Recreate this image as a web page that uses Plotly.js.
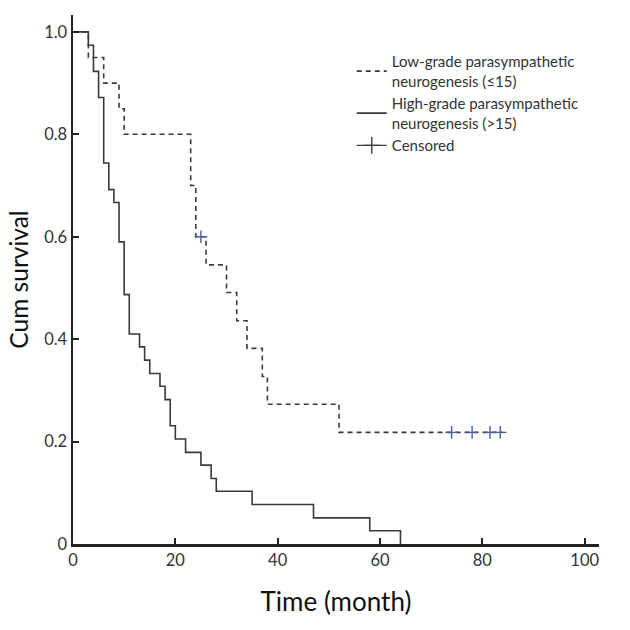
<!DOCTYPE html>
<html>
<head>
<meta charset="utf-8">
<script src="https://cdn.plot.ly/plotly-3.0.1.min.js"></script>
<style>html,body{margin:0;padding:0;background:#fff;}#chart{width:630px;height:630px;}</style>
</head>
<body>
<div id="chart"></div>
<script>
// High-grade parasympathetic neurogenesis (>15): step times (months) and survival
const highTimes = [0, 3, 4, 5, 6, 7, 8, 9, 10, 11, 13, 14, 15, 17, 18, 19, 20, 22, 25, 27, 28, 35, 47, 58, 64];
const highSurv  = [1.0, 0.974, 0.923, 0.872, 0.744, 0.692, 0.667, 0.590, 0.487, 0.410, 0.385, 0.359, 0.333, 0.308, 0.282, 0.231, 0.205, 0.179, 0.154, 0.128, 0.103, 0.077, 0.051, 0.026, 0.0];

// Low-grade parasympathetic neurogenesis (<=15)
const lowTimes = [0, 3, 6, 9, 10, 23, 24, 26, 30, 32, 34, 37, 38, 52, 84];
const lowSurv  = [1.0, 0.95, 0.90, 0.85, 0.80, 0.70, 0.60, 0.545, 0.491, 0.436, 0.382, 0.327, 0.273, 0.218, 0.218];

// Censored observations (low-grade group)
const censTimes = [25, 74, 78, 81.5, 83.5];
const censSurv  = [0.60, 0.218, 0.218, 0.218, 0.218];

const xTicks = [0, 20, 40, 60, 80, 100];
const yTickVals = [0, 0.2, 0.4, 0.6, 0.8, 1.0];
const yTickText = ['0', '0.2', '0.4', '0.6', '0.8', '1.0'];

const FONT = 'Lato, "Open Sans", sans-serif';
const LINE = '#3a3a3a';

const traces = [
  {
    x: lowTimes, y: lowSurv, mode: 'lines', line: {shape: 'hv', color: LINE, width: 1.6, dash: '5px,4px'},
    name: 'Low-grade parasympathetic<br>neurogenesis (≤15)', hoverinfo: 'skip'
  },
  {
    x: highTimes, y: highSurv, mode: 'lines', line: {shape: 'hv', color: LINE, width: 1.6},
    name: 'High-grade parasympathetic<br>neurogenesis (>15)', hoverinfo: 'skip'
  },
  {
    x: censTimes, y: censSurv, mode: 'markers',
    marker: {symbol: 'cross-thin', size: 9, line: {color: '#4a5ca8', width: 1.4}},
    showlegend: false, hoverinfo: 'skip'
  },
  {
    x: [null], y: [null], mode: 'lines+markers', name: 'Censored',
    line: {color: LINE, width: 1.4},
    marker: {symbol: 'cross-thin', size: 12, line: {color: LINE, width: 1.4}}
  }
];

const layout = {
  width: 630, height: 630,
  margin: {l: 73, r: 31, t: 15, b: 86},
  paper_bgcolor: '#fff', plot_bgcolor: '#fff',
  font: {family: FONT, color: '#222', size: 16},
  showlegend: true,
  legend: {
    x: 0.53, y: 0.943, xanchor: 'left', yanchor: 'top',
    bgcolor: 'rgba(0,0,0,0)', font: {size: 15, color: '#333', family: FONT},
    tracegroupgap: 8, itemwidth: 30
  },
  xaxis: {
    range: [0, 102.8], tickvals: xTicks, ticks: 'inside', ticklen: 6, tickwidth: 2, tickcolor: '#222',
    showline: true, linecolor: '#222', linewidth: 2.5, showgrid: false, zeroline: false,
    tickfont: {size: 16.5, color: '#333'},
    title: {text: 'Time (month)', font: {size: 26, color: '#111'}, standoff: 24}
  },
  yaxis: {
    range: [0, 1.033], tickvals: yTickVals, ticktext: yTickText, ticks: 'inside', ticklen: 6, tickwidth: 2, tickcolor: '#222',
    showline: true, linecolor: '#222', linewidth: 2.5, showgrid: false, zeroline: false,
    tickfont: {size: 16.5, color: '#333'},
    title: {text: 'Cum survival', font: {size: 24.5, color: '#111'}, standoff: 9}
  }
};

Plotly.newPlot('chart', traces, layout, {displayModeBar: false, staticPlot: true});
</script>
</body>
</html>
